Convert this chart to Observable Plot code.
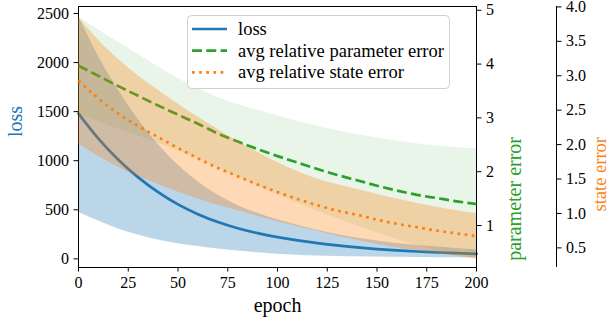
<!DOCTYPE html>
<html><head><meta charset="utf-8">
<script src="https://cdn.jsdelivr.net/npm/d3@7"></script>
<script src="https://cdn.jsdelivr.net/npm/@observablehq/plot@0.6"></script>
<style>
body{margin:0;background:#fff;}
#chart{position:relative;width:611px;height:323px;font-family:"Liberation Serif",serif;}
#chart svg{position:absolute;left:0;top:0;}
</style></head><body><div id="chart"></div>
<script>
const epochs = [0,10,20,30,40,50,60,70,80,90,100,110,120,130,140,150,160,170,180,190,200];

const lossMean  = [1480,1225,1010,830,680,555,455,375,312,262,222,189,161,137,117,100,86,75,66,58,51];
const lossLower = [474,385,305,243,192,155,125,100,80,62,47,37,30,25,22,19,16,14,12,11,10];
const lossUpper = [2472,2065,1720,1420,1168,955,785,650,544,464,398,342,292,249,212,181,156,136,120,105,92];

const paramMean  = [3.97,3.78,3.59,3.41,3.23,3.06,2.89,2.71,2.56,2.42,2.29,2.17,2.05,1.94,1.84,1.74,1.65,1.57,1.51,1.45,1.40];
const paramLower = [3.06,2.93,2.80,2.67,2.53,2.39,2.24,2.07,1.90,1.73,1.57,1.42,1.27,1.13,0.99,0.86,0.74,0.63,0.54,0.46,0.39];
const paramUpper = [4.88,4.64,4.41,4.18,3.95,3.73,3.54,3.38,3.25,3.14,3.04,2.94,2.85,2.76,2.69,2.63,2.57,2.52,2.48,2.45,2.42];

const stateMean  = [2.93,2.67,2.45,2.27,2.11,1.95,1.80,1.66,1.54,1.42,1.31,1.21,1.12,1.04,0.98,0.91,0.85,0.80,0.75,0.71,0.67];
const stateLower = [2.01,1.83,1.67,1.54,1.42,1.31,1.21,1.12,1.04,0.96,0.88,0.81,0.74,0.67,0.61,0.55,0.50,0.46,0.42,0.38,0.34];
const stateUpper = [3.85,3.52,3.24,3.00,2.79,2.59,2.40,2.22,2.05,1.89,1.74,1.61,1.50,1.42,1.35,1.28,1.21,1.15,1.09,1.04,1.00];

const epochTicks = [0,25,50,75,100,125,150,175,200];
const lossTicks  = [0,500,1000,1500,2000,2500];
const paramTicks = [1,2,3,4,5];
const stateTicks = [0.5,1.0,1.5,2.0,2.5,3.0,3.5,4.0];

const seriesNames = ["loss","avg relative parameter error","avg relative state error"];
const axisNames = {x:"epoch", loss:"loss", param:"parameter error", state:"state error"};
const colors = {loss:"#1f77b4", param:"#2ca02c", state:"#ff7f0e"};

function rows(mean, lower, upper){
  return epochs.map((e,i)=>({epoch:e, mean:mean[i], lower:lower[i], upper:upper[i]}));
}
const lossRows = rows(lossMean, lossLower, lossUpper);
const paramRows = rows(paramMean, paramLower, paramUpper);
const stateRows = rows(stateMean, stateLower, stateUpper);

const W = 611, H = 323;
const common = {
  width: W, height: H,
  marginLeft: 78, marginRight: 135, marginTop: 6, marginBottom: 56,
  style: {background: "transparent", fontFamily: "'Liberation Serif', serif", fontSize: "16px", color: "#000", overflow: "visible"}
};
const curve = "monotone-x";
const LW = 2.7;

const p1 = Plot.plot({
  ...common,
  x: {domain: [0, 200]},
  y: {domain: [-88, 2571]},
  marks: [
    Plot.areaY(lossRows, {x:"epoch", y1:"lower", y2:"upper", fill:colors.loss, fillOpacity:0.3, curve}),
    Plot.lineY(lossRows, {x:"epoch", y:"mean", stroke:colors.loss, strokeWidth:LW, curve}),
    Plot.frame({stroke:"#000", strokeWidth:1}),
    Plot.axisY(lossTicks, {anchor:"left", tickSize:4.5, tickPadding:5, label:null, tickFormat:d=>String(d)}),
    Plot.axisX(epochTicks, {anchor:"bottom", tickSize:4.5, tickPadding:5, label:null, tickFormat:d=>String(d)}),
    Plot.text([axisNames.loss], {frameAnchor:"left", rotate:-90, dx:-63, fill:colors.loss, fontSize:20}),
    Plot.text([axisNames.x], {frameAnchor:"bottom", dy:44, fill:"#000", fontSize:20})
  ]
});

const p2 = Plot.plot({
  ...common,
  x: {domain: [0, 200], axis: null},
  y: {domain: [0.22, 5.07]},
  marks: [
    Plot.areaY(paramRows, {x:"epoch", y1:"lower", y2:"upper", fill:colors.param, fillOpacity:0.1, curve}),
    Plot.lineY(paramRows, {x:"epoch", y:"mean", stroke:colors.param, strokeWidth:LW, strokeDasharray:"10,4.3", strokeLinecap:"butt", curve}),
    Plot.axisY(paramTicks, {anchor:"right", tickSize:4.5, tickPadding:5, label:null, tickFormat:d=>String(d)}),
    Plot.text([axisNames.param], {frameAnchor:"right", rotate:-90, dx:38, fill:colors.param, fontSize:20})
  ]
});

const p3 = Plot.plot({
  ...common,
  x: {domain: [0, 200], axis: null},
  y: {domain: [0.215, 4.006]},
  marks: [
    Plot.areaY(stateRows, {x:"epoch", y1:"lower", y2:"upper", fill:colors.state, fillOpacity:0.3, curve}),
    Plot.lineY(stateRows, {x:"epoch", y:"mean", stroke:colors.state, strokeWidth:LW, strokeDasharray:"2.7,4.45", strokeLinecap:"butt", curve}),
    Plot.ruleX([200], {dx:80, stroke:"#000", strokeWidth:1}),
    Plot.axisY(stateTicks, {anchor:"right", dx:80, tickSize:4.5, tickPadding:5, label:null, tickFormat:d3.format(".1f")}),
    Plot.text([axisNames.state], {frameAnchor:"right", rotate:-90, dx:124, fill:colors.state, fontSize:18.5})
  ]
});

const chart = document.getElementById("chart");
chart.append(p1, p2, p3);

// legend
const leg = d3.create("svg").attr("width", W).attr("height", H)
  .style("position","absolute").style("left","0").style("top","0")
  .style("font-family","'Liberation Serif', serif");
const lx = 187, ly = 15, lw = 262, lh = 73;
leg.append("rect").attr("x", lx+0.5).attr("y", ly+0.5).attr("width", lw).attr("height", lh)
  .attr("rx", 4).attr("fill", "rgba(255,255,255,0.8)").attr("stroke", "#d0d0d0").attr("stroke-width", 1);
const styles = [
  {stroke:colors.loss, dash:null},
  {stroke:colors.param, dash:"10,4.3"},
  {stroke:colors.state, dash:"2.7,4.45"}
];
seriesNames.forEach((name, i) => {
  const y = ly + 14 + i*21.7;
  const ln = leg.append("line").attr("x1", lx+5).attr("x2", lx+40).attr("y1", y).attr("y2", y)
    .attr("stroke", styles[i].stroke).attr("stroke-width", LW).attr("stroke-linecap","butt");
  if (styles[i].dash) ln.attr("stroke-dasharray", styles[i].dash);
  leg.append("text").attr("x", lx+51).attr("y", y).attr("dy","0.32em")
    .attr("font-size", 18.5).attr("fill","#000").text(name);
});
chart.append(leg.node());
</script>
</body></html>
